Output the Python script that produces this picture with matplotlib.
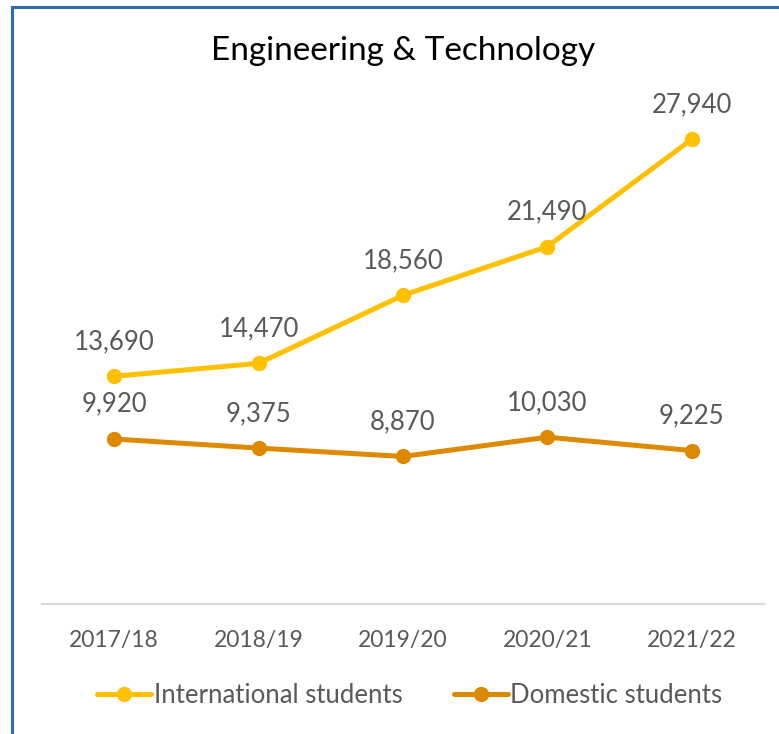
import matplotlib.pyplot as plt
from matplotlib.patches import Rectangle

years = ["2017/18", "2018/19", "2019/20", "2020/21", "2021/22"]
international = [13690, 14470, 18560, 21490, 27940]
domestic = [9920, 9375, 8870, 10030, 9225]

plt.rcParams["font.family"] = ["Lato", "DejaVu Sans"]
TEXT = "#595959"

fig = plt.figure(figsize=(7.79, 7.34), dpi=100)
ax = fig.add_axes([0.0539, 0.1771, 0.9268, 0.6798])

x = range(len(years))
series = [
    ("International students", international, "#FFC000"),
    ("Domestic students", domestic, "#DE8A00"),
]
for name, vals, color in series:
    ax.plot(x, vals, color=color, linewidth=3.6, marker="o", markersize=10,
            label=name, solid_capstyle="round")
    for xi, v in zip(x, vals):
        ax.annotate(f"{v:,}", (xi, v), xytext=(0, 25), textcoords="offset points",
                    ha="center", va="center", fontsize=18.5, color=TEXT)

ax.set_xlim(-0.5, 4.5)
ax.set_ylim(0, 30000)
ax.set_xticks(list(x))
ax.set_xticklabels(years, fontsize=16.5, color=TEXT)
ax.tick_params(axis="x", length=0, pad=19)
ax.set_yticks([])
for side in ["top", "left", "right"]:
    ax.spines[side].set_visible(False)
ax.spines["bottom"].set_color("#D9D9D9")
ax.spines["bottom"].set_linewidth(1.5)

fig.text(0.517, 0.930, "Engineering & Technology", ha="center", va="center",
         fontsize=24, color="black")

leg = fig.legend(loc="center", bbox_to_anchor=(0.526, 0.052), ncol=2, frameon=False,
                 fontsize=18.5, handlelength=2.1, handletextpad=0.1, columnspacing=2.0)
for t in leg.get_texts():
    t.set_color(TEXT)

# chart frame (blue border on top/left)
fig.patches.append(Rectangle((12 / 779, -0.1), 1.2, (734 - 7) / 734 + 0.1,
                             transform=fig.transFigure, fill=False,
                             edgecolor="#2E6BB0", linewidth=2.2))

fig.savefig("out.png", dpi=100)
